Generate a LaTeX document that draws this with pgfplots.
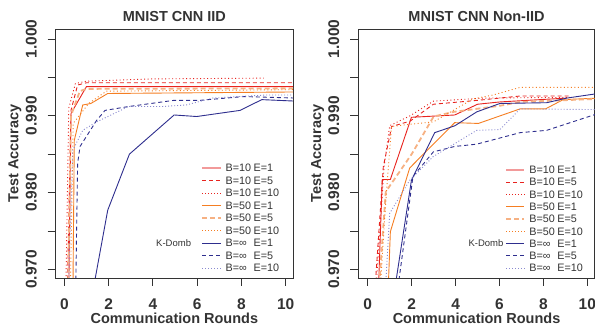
\documentclass[border=0pt]{standalone}
\usepackage{pgfplots}
\pgfplotsset{compat=1.18}
\usepackage{fontspec}
\setmainfont{Liberation Sans}
\definecolor{cRed}{HTML}{E8231E}
\definecolor{cPink}{HTML}{F29A9A}
\definecolor{cOrange}{HTML}{F57E22}
\definecolor{cLOrange}{HTML}{F6B183}
\definecolor{cNavy}{HTML}{2E2E8E}
\definecolor{cLBlue}{HTML}{8A8AD0}
\definecolor{cText}{HTML}{333333}
\newcommand\lab[2]{\makebox[28pt][l]{#1}#2}
\pgfplotsset{
  s1/.style={color=cRed, line width=0.9pt},
  s2/.style={color=cRed, line width=0.9pt, dash pattern=on 4pt off 3pt},
  s3/.style={color=cRed, line width=0.9pt, dash pattern=on 1pt off 2.5pt},
  s4/.style={color=cOrange, line width=0.9pt},
  s5/.style={color=cLOrange, line width=1.8pt, dash pattern=on 5pt off 3pt},
  s6/.style={color=cOrange, line width=0.9pt, dash pattern=on 1pt off 2.5pt},
  s7/.style={color=cNavy, line width=0.9pt},
  s8/.style={color=cNavy, line width=0.9pt, dash pattern=on 4pt off 3pt},
  s9/.style={color=cLBlue, line width=0.9pt, dash pattern=on 1pt off 2pt},
  myaxis/.style={
    scale only axis, anchor=south west,
    height=248.7pt,
    ymin=0.96887, ymax=1.00126,
    axis line style={draw=cText, line width=0.9pt},
    tick style={draw=cText, line width=0.8pt},
    tick pos=left,
    tick align=outside, major tick length=8pt,
    xtick={0,2,4,6,8,10}, xticklabels={0,2,4,6,8,10},
    ytick={0.97,0.975,0.98,0.985,0.99,0.995,1.0},
    yticklabels={0.970,,0.980,,0.990,,1.000},
    xticklabel style={font=\fontsize{15.5}{17}\selectfont\bfseries, text=cText, anchor=center, yshift=-18pt},
    yticklabel style={font=\fontsize{15.5}{17}\selectfont\bfseries, text=cText, rotate=90, anchor=center, yshift=16.5pt},
    title style={font=\fontsize{14.5}{16}\selectfont\bfseries, text=cText, at={(0.5,1)}, anchor=base, yshift=1.5pt},
    xlabel style={font=\fontsize{14.5}{16}\selectfont\bfseries, text=cText, at={(axis description cs:0.5,0)}, anchor=base, yshift=-46pt},
    ylabel style={font=\fontsize{14.5}{16}\selectfont\bfseries, text=cText, at={(axis description cs:0,0.5)}, anchor=center, yshift=40.7pt},
    xlabel={Communication Rounds}, ylabel={Test Accuracy},
    legend style={fill=none, draw opacity=0, anchor=north west,
      font=\fontsize{10.8}{12}\selectfont, text=cText,
      nodes={inner sep=0pt, text height=7.5pt, text depth=2.5pt, anchor=base west},
      row sep=2.5pt, column sep=4pt},
    legend cell align=left,
    legend image code/.code={\draw[draw opacity=1, ##1] (0pt,3.8pt) -- (18.3pt,3.8pt);},
    clip=true,
  },
}
\newcommand\mylegend{%
\addlegendimage{draw=cPink, line width=2pt}\addlegendentry{\lab{B=10}{E=1}}
\addlegendimage{draw=cRed, line width=0.9pt, dash pattern=on 4pt off 3pt}\addlegendentry{\lab{B=10}{E=5}}
\addlegendimage{draw=cRed, line width=0.9pt, dash pattern=on 1pt off 2pt}\addlegendentry{\lab{B=10}{E=10}}
\addlegendimage{draw=cOrange, line width=1pt}\addlegendentry{\lab{B=50}{E=1}}
\addlegendimage{draw=cLOrange, line width=1.8pt, dash pattern=on 5pt off 3pt}\addlegendentry{\lab{B=50}{E=5}}
\addlegendimage{draw=cOrange, line width=0.9pt, dash pattern=on 1pt off 2pt}\addlegendentry{\lab{B=50}{E=10}}
\addlegendimage{draw=cNavy, line width=1pt}\addlegendentry{\lab{B=∞}{E=1}}
\addlegendimage{draw=cNavy, line width=0.9pt, dash pattern=on 4pt off 3pt}\addlegendentry{\lab{B=∞}{E=5}}
\addlegendimage{draw=cLBlue, line width=0.9pt, dash pattern=on 1pt off 2pt}\addlegendentry{\lab{B=∞}{E=10}}
}
\begin{document}
\begin{tikzpicture}
% ---------------- IID ----------------
\begin{axis}[myaxis, at={(55.7pt,49pt)}, width=237.3pt, xmin=-0.39, xmax=10.33,
  title={MNIST CNN IID},
  legend style={at={(axis description cs:0.600,0.466)}}]
\addplot[s1, forget plot] coordinates {(0.15,0.955) (0.3,0.9903) (1,0.9938) (10.5,0.9938)};
\addplot[s2, forget plot] coordinates {(0.05,0.955) (0.3,0.9907) (0.6,0.9940) (1,0.9943) (10.5,0.9943)};
\addplot[s3, forget plot] coordinates {(0.0,0.955) (0.2,0.9910) (0.5,0.9942) (1,0.9945) (4,0.9948) (9,0.9949)};
\addplot[s4, forget plot] coordinates {(0.35,0.955) (0.45,0.9868) (0.83,0.9914) (1.2,0.9916) (1.96,0.9929) (10.5,0.9931)};
\addplot[s5, forget plot] coordinates {(0.1,0.955) (0.3,0.9900) (0.7,0.9932) (1,0.9935) (10.5,0.99357)};
\addplot[s6, forget plot] coordinates {(0.2,0.955) (0.4,0.9890) (1.1,0.9916) (1.9,0.9932) (10.5,0.9934)};
\addplot[s7, forget plot] coordinates {(1,0.9626) (1.96,0.9777) (2.94,0.9850) (4.96,0.9901) (5.98,0.9899) (7.94,0.9907) (8.92,0.9921) (10.5,0.9919)};
\addplot[s8, forget plot] coordinates {(0.45,0.955) (0.6,0.9838) (0.71,0.9860) (1.46,0.9894) (1.84,0.9907) (2.9,0.9912) (4.93,0.9920) (6.1,0.9920) (8.1,0.9925) (10.5,0.9923)};
\addplot[s9, forget plot] coordinates {(0.05,0.955) (0.38,0.9855) (0.83,0.9881) (1.46,0.9892) (2.9,0.9912) (4.4,0.9912) (5.5,0.9914) (6.7,0.9923) (9.1,0.9927) (10.5,0.9927)};
\mylegend
\end{axis}
% ---------------- Non-IID ----------------
\begin{axis}[myaxis, at={(358.3pt,49pt)}, width=236.5pt, xmin=-0.43, xmax=10.34,
  title={MNIST CNN Non-IID},
  legend style={at={(axis description cs:0.607,0.459)}, row sep=2.3pt}]
\addplot[s1, forget plot] coordinates {(0.4,0.960) (0.66,0.9817) (1.03,0.9817) (1.99,0.9898) (3.96,0.9901) (5.0,0.9915) (6.02,0.9918) (9.06,0.9923)};
\addplot[s2, forget plot] coordinates {(0.2,0.962) (0.71,0.9834) (1.09,0.9886) (1.93,0.9893) (2.99,0.9915) (4.97,0.9920) (6.94,0.99257) (9.2,0.99257)};
\addplot[s3, forget plot] coordinates {(0.25,0.962) (0.75,0.9835) (1.0,0.9887) (1.93,0.9900) (2.99,0.9919) (5.27,0.9923) (9.2,0.9924)};
\addplot[s4, forget plot] coordinates {(0.9,0.965) (1.03,0.9749) (1.91,0.9832) (3.96,0.9891) (5.04,0.9890) (6.94,0.9909) (8.1,0.9909) (8.9,0.9921) (10.5,0.9923)};
\addplot[s5, forget plot] coordinates {(0.45,0.965) (0.82,0.9801) (2.0,0.9850) (3.0,0.9899) (3.9,0.9905) (6.02,0.9913) (6.94,0.9918) (10.5,0.9922)};
\addplot[s6, forget plot] coordinates {(0.45,0.962) (0.8,0.9780) (1.08,0.9886) (1.95,0.9889) (2.99,0.9892) (4.8,0.9922) (5.7,0.9927) (6.94,0.9937) (10.5,0.9937)};
\addplot[s7, forget plot] coordinates {(1.1,0.965) (1.99,0.9816) (3.05,0.9878) (3.97,0.9887) (4.96,0.9905) (6.02,0.9916) (8.15,0.9917) (9.06,0.9923) (10.5,0.9929)};
\addplot[s8, forget plot] coordinates {(1.25,0.965) (2.06,0.9821) (2.99,0.9853) (3.96,0.9860) (4.96,0.9863) (6.94,0.9878) (8.15,0.9881) (10.5,0.9903)};
\addplot[s9, forget plot] coordinates {(0.7,0.962) (1.0,0.9773) (1.91,0.9816) (2.99,0.9847) (3.98,0.9864) (4.96,0.9881) (6.02,0.9882) (6.94,0.9909) (10.5,0.9908)};
\mylegend
\end{axis}
\node[anchor=west, inner sep=0pt, font=\fontsize{9.5}{11}\selectfont, text=cText] at (156pt,83.7pt) {K-Domb};
\node[anchor=west, inner sep=0pt, font=\fontsize{9.5}{11}\selectfont, text=cText] at (468.3pt,83.7pt) {K-Domb};
\pgfresetboundingbox
\path[use as bounding box] (0pt,0pt) rectangle (595pt,327pt);
\end{tikzpicture}
\end{document}
